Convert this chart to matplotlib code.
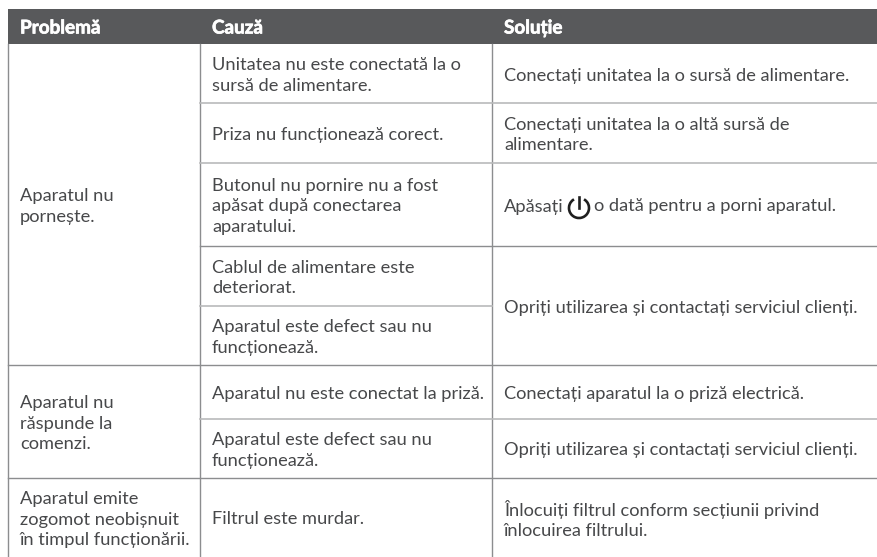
import matplotlib
matplotlib.use('Agg')
import matplotlib.pyplot as plt
import matplotlib.patheffects as pe
from matplotlib.patches import Arc, Rectangle

plt.rcParams['font.family'] = ['Lato', 'Noto Sans', 'DejaVu Sans']

# table content
headers = ['Problemă', 'Cauză', 'Soluție']
problems = ['Aparatul nu\npornește.',
            'Aparatul nu\nrăspunde la\ncomenzi.',
            'Aparatul emite\nzogomot neobișnuit\nîn timpul funcționării.']
causes = ['Unitatea nu este conectată la o\nsursă de alimentare.',
          'Priza nu funcționează corect.',
          'Butonul nu pornire nu a fost\napăsat după conectarea\naparatului.',
          'Cablul de alimentare este\ndeteriorat.',
          'Aparatul este defect sau nu\nfuncționează.',
          'Aparatul nu este conectat la priză.',
          'Aparatul este defect sau nu\nfuncționează.',
          'Filtrul este murdar.']
solutions = ['Conectați unitatea la o sursă de alimentare.',
             'Conectați unitatea la o altă sursă de\nalimentare.',
             'o dată pentru a porni aparatul.',
             'Opriți utilizarea și contactați serviciul clienți.',
             'Conectați aparatul la o priză electrică.',
             'Opriți utilizarea și contactați serviciul clienți.',
             'Înlocuiți filtrul conform secțiunii privind\nînlocuirea filtrului.']
press_word = 'Apăsați'

# grid in pixels
col_x = [8, 200, 492, 877]
cause_y = [44, 103, 163, 246, 306, 365, 419, 478, 557]
solution_y = [44, 103, 163, 246, 365, 419, 478, 557]
problem_y = [44, 365, 478, 557]

font_body = 13.15
font_head = 13.6
line_dark = '#8c8d8f'
line_light = '#b9babb'
text_col = '#47484a'
head_col = '#58595b'
space = 1.36
dy = 2

fig = plt.figure(figsize=(8.77, 5.57), dpi=100)
ax = fig.add_axes([0, 0, 1, 1])
ax.set_xlim(0, 877)
ax.set_ylim(557, 0)
ax.axis('off')

ax.add_patch(Rectangle((col_x[0], 9), col_x[3] - col_x[0], 35, color=head_col, lw=0))
for i in range(3):
    ax.text(col_x[i] + 12, 28, headers[i], color='white', fontsize=font_head, fontweight='bold',
            va='center', ha='left', path_effects=[pe.withStroke(linewidth=0.5, foreground='white')])

# rules
for x in col_x[:3]:
    ax.plot([x, x], [44, 557], color=line_dark, lw=1)
for y in [103, 163, 306, 419]:
    x_end = 492 if y == 306 else 877
    ax.plot([200, x_end], [y, y], color=line_light, lw=1.2)
ax.plot([200, 877], [246, 246], color=line_dark, lw=1)
for y in [365, 478]:
    ax.plot([8, 877], [y, y], color=line_dark, lw=1)

for i in range(3):
    ax.text(col_x[0] + 12, (problem_y[i] + problem_y[i + 1]) / 2 + dy, problems[i], color=text_col,
            fontsize=font_body, va='center', ha='left', linespacing=space)
for i in range(8):
    ax.text(col_x[1] + 12, (cause_y[i] + cause_y[i + 1]) / 2 + dy, causes[i], color=text_col,
            fontsize=font_body, va='center', ha='left', linespacing=space)
for i in range(7):
    x = col_x[2] + 12
    if i == 2:
        # power button sits between the two words
        ax.text(x, 205 + dy, press_word, color=text_col, fontsize=font_body, va='center', ha='left')
        ax.add_patch(Arc((579, 208), 20, 20, theta1=-60, theta2=240, color='#1f1f1f', lw=1.9))
        ax.plot([579, 579], [197, 208], color='#1f1f1f', lw=1.9)
        x = 594
    ax.text(x, (solution_y[i] + solution_y[i + 1]) / 2 + dy, solutions[i], color=text_col,
            fontsize=font_body, va='center', ha='left', linespacing=space)

fig.savefig('out.png', dpi=100)
